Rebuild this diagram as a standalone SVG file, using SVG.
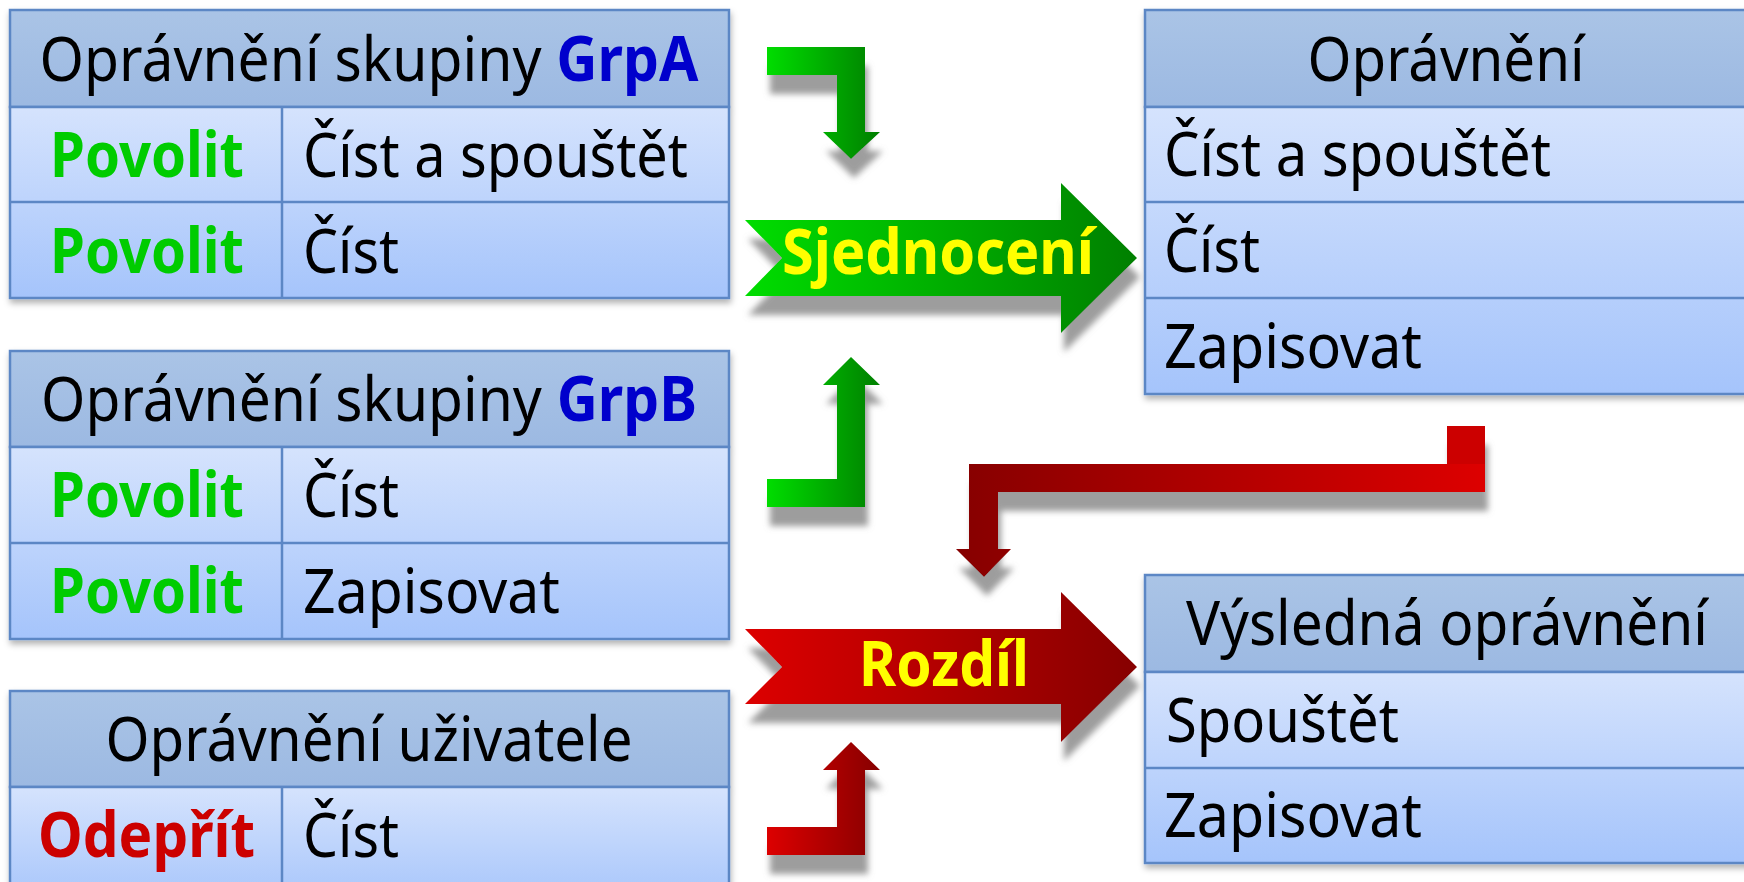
<svg xmlns="http://www.w3.org/2000/svg" width="1744" height="882" viewBox="0 0 1744 882">
<style>
text{font-family:"Noto Sans","Open Sans","DejaVu Sans",sans-serif;font-size:62px;fill:#000}
.b{font-weight:bold}
.g{fill:#00cc00}
.bl{fill:#0000cc}
.r{fill:#cc0000}
.y{fill:#ffff00}
.m{text-anchor:middle}
.hd{fill:url(#hdr);stroke:#5b87c5;stroke-width:2.5}
.bd{fill:url(#body);stroke:#5b87c5;stroke-width:2.5}
.ln{stroke:#5b87c5;stroke-width:2.5}
</style>
<defs>
<linearGradient id="hdr" x1="0" y1="0" x2="0" y2="1"><stop offset="0" stop-color="#aac4e6"/><stop offset="1" stop-color="#9cb9e2"/></linearGradient>
<linearGradient id="body" x1="0" y1="0" x2="0" y2="1"><stop offset="0" stop-color="#d5e3fd"/><stop offset="1" stop-color="#a5c4fb"/></linearGradient>
<linearGradient id="gLR" x1="0" y1="0" x2="1" y2="0"><stop offset="0" stop-color="#00dd00"/><stop offset="1" stop-color="#007f00"/></linearGradient>
<linearGradient id="rLR" x1="0" y1="0" x2="1" y2="0"><stop offset="0" stop-color="#dd0000"/><stop offset="1" stop-color="#860000"/></linearGradient>
<linearGradient id="rRL" x1="0" y1="0" x2="1" y2="0"><stop offset="0" stop-color="#860000"/><stop offset="1" stop-color="#dd0000"/></linearGradient>
<filter id="tsh" x="-5%" y="-5%" width="110%" height="120%"><feDropShadow dx="1" dy="4" stdDeviation="3" flood-color="#000" flood-opacity="0.3"/></filter>
<filter id="ash" x="-10%" y="-10%" width="130%" height="150%"><feDropShadow dx="3" dy="19" stdDeviation="3" flood-color="#8c8c8c" flood-opacity="0.85"/></filter>
</defs>

<g id="grpA" filter="url(#tsh)">
<rect class="hd" x="10" y="10" width="719" height="97"/>
<rect class="bd" x="10" y="107" width="719" height="191"/>
<line class="ln" x1="10" y1="202" x2="729" y2="202"/>
<line class="ln" x1="282" y1="107" x2="282" y2="298"/>
<text class="m" x="369" y="81" textLength="659" lengthAdjust="spacingAndGlyphs">Oprávnění skupiny <tspan class="b bl">GrpA</tspan></text>
<text class="b g" x="50" y="177" textLength="194" lengthAdjust="spacingAndGlyphs">Povolit</text>
<text x="303" y="177" textLength="385" lengthAdjust="spacingAndGlyphs">Číst a spouštět</text>
<text class="b g" x="50" y="273" textLength="194" lengthAdjust="spacingAndGlyphs">Povolit</text>
<text x="303" y="273" textLength="96" lengthAdjust="spacingAndGlyphs">Číst</text>
</g>

<g id="grpB" filter="url(#tsh)">
<rect class="hd" x="10" y="351" width="719" height="96"/>
<rect class="bd" x="10" y="447" width="719" height="192"/>
<line class="ln" x1="10" y1="543" x2="729" y2="543"/>
<line class="ln" x1="282" y1="447" x2="282" y2="639"/>
<text class="m" x="369" y="421" textLength="656" lengthAdjust="spacingAndGlyphs">Oprávnění skupiny <tspan class="b bl">GrpB</tspan></text>
<text class="b g" x="50" y="517" textLength="194" lengthAdjust="spacingAndGlyphs">Povolit</text>
<text x="303" y="517" textLength="96" lengthAdjust="spacingAndGlyphs">Číst</text>
<text class="b g" x="50" y="613" textLength="194" lengthAdjust="spacingAndGlyphs">Povolit</text>
<text x="303" y="613" textLength="257" lengthAdjust="spacingAndGlyphs">Zapisovat</text>
</g>

<g id="user" filter="url(#tsh)">
<rect class="hd" x="10" y="691" width="719" height="96"/>
<rect class="bd" x="10" y="787" width="719" height="120"/>
<line class="ln" x1="282" y1="787" x2="282" y2="907"/>
<text class="m" x="369" y="761" textLength="527" lengthAdjust="spacingAndGlyphs">Oprávnění uživatele</text>
<text class="b r" x="38" y="857" textLength="217" lengthAdjust="spacingAndGlyphs">Odepřít</text>
<text x="303" y="857" textLength="96" lengthAdjust="spacingAndGlyphs">Číst</text>
</g>

<g id="opravneni" filter="url(#tsh)">
<rect class="hd" x="1145" y="10" width="620" height="97"/>
<rect class="bd" x="1145" y="107" width="620" height="287"/>
<line class="ln" x1="1145" y1="202" x2="1765" y2="202"/>
<line class="ln" x1="1145" y1="298" x2="1765" y2="298"/>
<text class="m" x="1446" y="81" textLength="277" lengthAdjust="spacingAndGlyphs">Oprávnění</text>
<text x="1164" y="176" textLength="387" lengthAdjust="spacingAndGlyphs">Číst a spouštět</text>
<text x="1164" y="272" textLength="96" lengthAdjust="spacingAndGlyphs">Číst</text>
<text x="1164" y="368" textLength="258" lengthAdjust="spacingAndGlyphs">Zapisovat</text>
</g>

<g id="vysledna" filter="url(#tsh)">
<rect class="hd" x="1145" y="575" width="620" height="97"/>
<rect class="bd" x="1145" y="672" width="620" height="191"/>
<line class="ln" x1="1145" y1="768" x2="1765" y2="768"/>
<text class="m" x="1447" y="645" textLength="522" lengthAdjust="spacingAndGlyphs">Výsledná oprávnění</text>
<text x="1166" y="742" textLength="233" lengthAdjust="spacingAndGlyphs">Spouštět</text>
<text x="1164" y="837" textLength="258" lengthAdjust="spacingAndGlyphs">Zapisovat</text>
</g>

<g id="sjednoceni">
<polygon filter="url(#ash)" fill="url(#gLR)" points="745,220 1061,220 1061,183 1137,258 1061,333 1061,296 745,296 782,258"/>
<text class="b y" x="782" y="274" textLength="312" lengthAdjust="spacingAndGlyphs">Sjednocení</text>
</g>

<g id="rozdil">
<polygon filter="url(#ash)" fill="url(#rLR)" points="745,629 1061,629 1061,592 1137,667 1061,742 1061,704 745,704 782,667"/>
<text class="b y" x="859" y="686" textLength="170" lengthAdjust="spacingAndGlyphs">Rozdíl</text>
</g>

<g id="connectors">
<polygon filter="url(#ash)" fill="url(#gLR)" points="767,47 865,47 865,132 880,132 851,159 823,132 837,132 837,75 767,75"/>
<polygon filter="url(#ash)" fill="url(#gLR)" points="767,507 865,507 865,385 880,385 851,357 823,385 837,385 837,479 767,479"/>
<g filter="url(#ash)">
<polygon fill="url(#rRL)" points="1485,464 1485,492 998,492 998,549 1011,549 984,577 956,549 969,549 969,464"/>
<rect x="1447" y="426" width="38" height="38" fill="#cc0000"/>
</g>
<polygon filter="url(#ash)" fill="url(#rLR)" points="767,855 865,855 865,770 880,770 851,742 823,770 837,770 837,827 767,827"/>
</g>
</svg>
